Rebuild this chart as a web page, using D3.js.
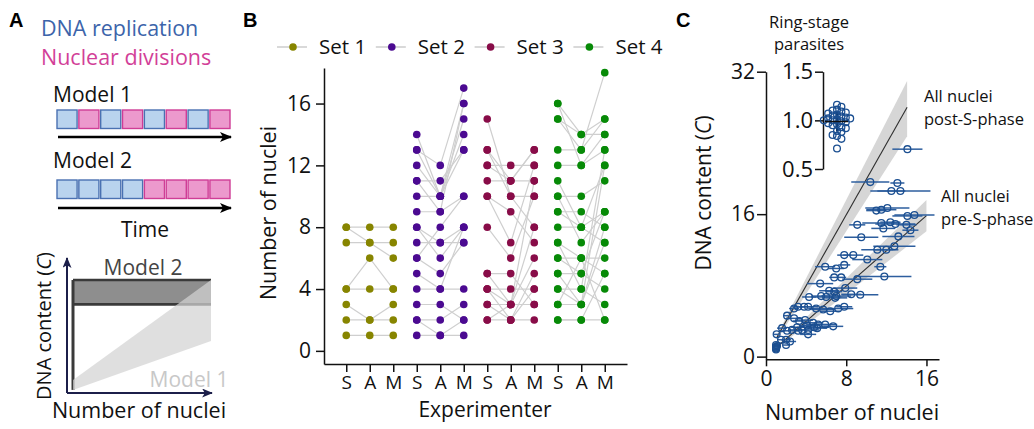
<!DOCTYPE html>
<html>
<head>
<meta charset="utf-8">
<script src="https://cdn.jsdelivr.net/npm/d3@7"></script>
<style>
  body { margin: 0; background: #fff; }
  text { font-family: "Open Sans", sans-serif; }
</style>
</head>
<body>
<svg id="fig" width="1034" height="429"></svg>
<script>
// ---------- panel A: the two models
const model1Steps = ["rep", "div", "rep", "div", "rep", "div", "rep", "div"];
const model2Steps = ["rep", "rep", "rep", "rep", "div", "div", "div", "div"];
const model2Band = [0.78, 1.0];              // DNA content stays between these
const model1Wedge = [[0, 0.01, 0.1], [1, 0.45, 1.0]]; // [nuclei, low, high]

// ---------- panel B: nuclei counted by three experimenters (S, A, M)
const experimenters = ["S", "A", "M"];
const setNames = ["Set 1", "Set 2", "Set 3", "Set 4"];
const setColors = ["#878500", "#4b0a91", "#880c48", "#078a07"];
const set1Counts = [
  [8, 8, 8], [8, 7, 6], [7, 7, 7], [4, 6, 4], [4, 4, 4], [3, 2, 3], [2, 2, 2], [1, 1, 1]
];
const set2Counts = [
  [14, 10, 15], [13, 12, 17], [13, 10, 16], [12, 10, 14], [11, 11, 13], [11, 9, 16],
  [10, 10, 13], [9, 9, 10], [8, 7, 8], [8, 6, 8], [7, 7, 7], [6, 8, 10], [6, 5, 7],
  [5, 4, 8], [4, 4, 4], [3, 3, 2], [2, 2, 3], [2, 1, 1], [1, 1, 2]
];
const set3Counts = [
  [15, 10, 8], [13, 11, 13], [13, 10, 10], [12, 12, 12], [12, 11, 11], [11, 11, 13],
  [10, 7, 12], [10, 9, 7], [8, 6, 10], [5, 5, 3], [5, 3, 8], [4, 4, 4], [4, 3, 6],
  [4, 2, 5], [3, 3, 3], [3, 2, 4], [2, 2, 2], [2, 3, 11]
];
const set4Counts = [
  [16, 14, 15], [16, 12, 14], [15, 14, 14], [15, 13, 18], [13, 13, 15], [12, 12, 13],
  [11, 8, 12], [10, 10, 11], [10, 7, 9], [9, 9, 8], [9, 8, 7], [8, 8, 9], [7, 6, 6],
  [7, 4, 13], [6, 6, 5], [6, 5, 9], [5, 5, 4], [5, 3, 12], [4, 4, 3], [4, 3, 8],
  [3, 3, 7], [3, 6, 2], [2, 2, 2], [2, 2, 5]
];
const setCounts = [set1Counts, set2Counts, set3Counts, set4Counts];

// ---------- panel C: DNA content vs nuclei, [mean nuclei, DNA content (C), sd nuclei]
const cells = [
  [10.4, 19.6, 1.9], [13.1, 19.5, 0.7], [12.5, 18.6, 1.4], [13.4, 18.6, 3.0], [14.1, 23.3, 1.5],
  [12.1, 16.7, 2.2], [11.5, 16.5, 1.5], [11.0, 16.4, 1.0], [14.1, 15.8, 1.5], [14.8, 15.9, 2.0],
  [9.1, 14.8, 0.8], [11.5, 15.0, 1.9], [12.4, 15.1, 1.0], [11.7, 14.4, 1.2], [14.0, 14.8, 1.0],
  [12.9, 14.9, 2.0], [9.5, 13.4, 1.7], [13.2, 13.5, 1.6], [14.4, 14.2, 0.8],
  [12.8, 12.4, 2.1], [11.1, 12.0, 1.6], [12.0, 12.0, 1.2],
  [7.8, 11.4, 0.7], [8.7, 11.4, 1.0], [10.1, 10.9, 1.5],
  [7.8, 10.3, 0.6], [5.9, 10.1, 1.0], [7.0, 9.9, 0.8], [11.4, 10.1, 0.6],
  [11.8, 9.0, 2.7], [6.8, 8.9, 0.5], [7.5, 8.9, 0.5], [9.1, 8.7, 1.5],
  [5.4, 8.2, 1.3], [6.3, 7.4, 1.0], [6.8, 7.3, 0.8], [7.9, 7.7, 1.2], [8.5, 7.0, 1.0],
  [9.4, 6.95, 1.8], [7.0, 6.8, 1.5],
  [4.3, 6.7, 0.7], [5.5, 6.8, 1.0], [6.0, 6.7, 1.5], [6.9, 6.6, 1.2],
  [4.2, 5.6, 1.0], [5.0, 5.4, 0.8], [5.7, 5.3, 1.2], [6.4, 5.1, 1.0], [7.2, 5.4, 1.5], [7.8, 5.6, 0.8],
  [3.2, 5.6, 0.6], [3.8, 5.6, 0.8], [2.8, 5.4, 0.5],
  [2.1, 4.6, 0.4], [2.8, 4.3, 0.8], [3.3, 4.0, 0.6], [3.9, 4.1, 0.8], [4.7, 3.8, 1.0],
  [5.2, 3.6, 1.2], [4.1, 3.5, 0.8], [4.8, 3.3, 1.5], [3.1, 3.3, 0.6], [3.6, 3.0, 0.5],
  [4.2, 3.0, 1.1], [5.1, 3.2, 1.0], [5.9, 3.6, 1.2], [6.7, 3.4, 1.0],
  [1.6, 3.2, 0.5], [2.1, 2.9, 0.6], [2.6, 3.0, 0.4], [3.2, 2.9, 0.5], [4.2, 2.5, 0.8],
  [1.06, 2.5, 0.3], [1.5, 1.9, 0.4], [2.0, 1.9, 0.5], [2.4, 1.7, 0.6], [2.0, 1.3, 0.3],
  [1.0, 1.3, 0.2], [1.0, 1.1, 0.2], [1.0, 0.9, 0.2], [1.0, 0.8, 0.2], [1.0, 1.0, 0.2], [1.1, 1.2, 0.3]
];
// linear fits through the origin, with their confidence band
const fitNames = ["post-S-phase", "pre-S-phase"];
const fitSlope = [1.99, 0.99];
const fitBandLow = [1.76, 0.88];
const fitBandHigh = [2.2, 1.1];
const fitFrom = [1.1, 1.3];
const fitTo = [14.07, 16.0];
// inset: DNA content of ring-stage parasites (C)
const ringDNA = [1.16, 1.14, 1.11, 1.10, 1.09, 1.08, 1.07, 1.06, 1.05, 1.04, 1.03, 1.02, 1.02,
  1.01, 1.0, 1.0, 0.99, 0.98, 0.97, 0.96, 0.95, 0.93, 0.92, 0.89, 0.88, 0.85, 0.84, 0.81, 0.71];

const font = '"Open Sans", sans-serif';
const blue = "#1b4f91";
const svg = d3.select("#fig");

function styleAxis(size) {
  return g => {
    g.attr("font-family", font).attr("font-size", size);
    g.select(".domain").attr("stroke", "#111").attr("stroke-width", 1.5);
    g.selectAll(".tick line").attr("stroke", "#111").attr("stroke-width", 1.5);
    g.selectAll(".tick text").attr("fill", "#111");
  };
}

// panel letters
svg.selectAll("text.letter").data([["A", 9], ["B", 243], ["C", 676]]).join("text")
  .attr("class", "letter")
  .attr("x", d => d[1]).attr("y", 27)
  .style("font-family", "'Liberation Sans', Arial, sans-serif")
  .attr("font-weight", "bold").attr("font-size", 20)
  .text(d => d[0]);

// ================= panel A =================
const A = svg.append("g");
A.append("text").attr("x", 41).attr("y", 36).attr("font-size", 21.5).attr("fill", "#3c64aa").text("DNA replication");
A.append("text").attr("x", 41).attr("y", 65).attr("font-size", 21.5).attr("fill", "#d23f98").text("Nuclear divisions");

const stepFill = { rep: "#b9d3ee", div: "#ec99cd" };
const stepStroke = { rep: "#4a71b2", div: "#cf3d96" };
const xStep = d3.scaleBand().domain(d3.range(8)).range([57, 230]).paddingInner(0.08);

svg.append("defs").append("marker")
  .attr("id", "head").attr("viewBox", "0 0 12 10").attr("refX", 11).attr("refY", 5)
  .attr("markerWidth", 12).attr("markerHeight", 10).attr("markerUnits", "userSpaceOnUse")
  .attr("orient", "auto")
  .append("path").attr("d", "M0,0 L12,5 L0,10 L3,5 Z").attr("fill", "#000");
svg.select("defs").append("marker")
  .attr("id", "headNavy").attr("viewBox", "0 0 12 10").attr("refX", 11).attr("refY", 5)
  .attr("markerWidth", 11).attr("markerHeight", 9).attr("markerUnits", "userSpaceOnUse")
  .attr("orient", "auto")
  .append("path").attr("d", "M0,0 L12,5 L0,10 L3,5 Z").attr("fill", "#1c1f4a");

const modelRows = [
  { label: "Model 1", steps: model1Steps, top: 110, labelY: 102, arrowY: 137 },
  { label: "Model 2", steps: model2Steps, top: 180, labelY: 168, arrowY: 208 }
];
modelRows.forEach(row => {
  A.append("text").attr("x", 53).attr("y", row.labelY).attr("font-size", 21).attr("fill", "#111").text(row.label);
  A.selectAll(null).data(row.steps).join("rect")
    .attr("x", (d, i) => xStep(i)).attr("y", row.top)
    .attr("width", xStep.bandwidth()).attr("height", 18.5)
    .attr("fill", d => stepFill[d]).attr("stroke", d => stepStroke[d]).attr("stroke-width", 1.4);
  A.append("line").attr("x1", 58).attr("x2", 231).attr("y1", row.arrowY).attr("y2", row.arrowY)
    .attr("stroke", "#000").attr("stroke-width", 2.6).attr("marker-end", "url(#head)");
});
A.append("text").attr("x", 145).attr("y", 237).attr("text-anchor", "middle").attr("font-size", 21).attr("fill", "#111").text("Time");

// schematic DNA content vs nuclei
const xs = d3.scaleLinear().domain([0, 1]).range([73, 211]);
const ys = d3.scaleLinear().domain([0, 1]).range([391, 280]);
A.append("rect")
  .attr("x", xs(0)).attr("width", xs(1) - xs(0))
  .attr("y", ys(model2Band[1])).attr("height", ys(model2Band[0]) - ys(model2Band[1]))
  .attr("fill", "#8e8e8e");
[model2Band[1], model2Band[0]].forEach(v => {
  A.append("line").attr("x1", xs(0)).attr("x2", xs(1)).attr("y1", ys(v)).attr("y2", ys(v))
    .attr("stroke", "#3a3a3a").attr("stroke-width", 2.6);
});
A.append("line").attr("x1", xs(0)).attr("x2", xs(0)).attr("y1", ys(1)).attr("y2", ys(0.01))
  .attr("stroke", "#3a3a3a").attr("stroke-width", 3);
A.append("path").datum(model1Wedge)
  .attr("d", d3.area().x(d => xs(d[0])).y0(d => ys(d[1])).y1(d => ys(d[2])))
  .attr("fill", "#d2d2d2").attr("fill-opacity", 0.72);
A.append("line").attr("x1", 67).attr("x2", 67).attr("y1", 393).attr("y2", 258)
  .attr("stroke", "#1c1f4a").attr("stroke-width", 2).attr("marker-end", "url(#headNavy)");
A.append("line").attr("x1", 67).attr("x2", 212).attr("y1", 393).attr("y2", 393)
  .attr("stroke", "#1c1f4a").attr("stroke-width", 2).attr("marker-end", "url(#headNavy)");
A.append("text").attr("x", 143).attr("y", 275).attr("text-anchor", "middle").attr("font-size", 21).attr("fill", "#444").text("Model 2");
A.append("text").attr("x", 189).attr("y", 387).attr("text-anchor", "middle").attr("font-size", 21).attr("fill", "#c8c8c8").text("Model 1");
const aLab = A.append("text").attr("transform", "translate(51,326) rotate(-90)")
  .attr("text-anchor", "middle").attr("font-size", 20).attr("fill", "#111");
aLab.append("tspan").text("DNA content (");
aLab.append("tspan").attr("font-style", "italic").text("C");
aLab.append("tspan").text(")");
A.append("text").attr("x", 139).attr("y", 418).attr("text-anchor", "middle").attr("font-size", 21.5).attr("fill", "#111").text("Number of nuclei");

// ================= panel B =================
const B = svg.append("g");
const xB = d3.scalePoint().domain(d3.range(12)).range([324, 627]).padding(0.947);
const yB = d3.scaleLinear().domain([-0.85, 18.3]).range([364, 68]);

B.append("g").attr("transform", "translate(324,0)")
  .call(d3.axisLeft(yB).tickValues([0, 4, 8, 12, 16]).tickSize(8).tickSizeOuter(0).tickPadding(5))
  .call(styleAxis(21));
B.append("g").attr("transform", "translate(0,364)")
  .call(d3.axisBottom(xB).tickSize(8).tickSizeOuter(0).tickPadding(4).tickFormat(i => experimenters[i % 3]))
  .call(styleAxis(19));

const pairLine = si => d3.line().x((v, j) => xB(si * 3 + j)).y(v => yB(v));
setCounts.forEach((counts, si) => {
  B.append("g").selectAll("path").data(counts).join("path")
    .attr("d", pairLine(si))
    .attr("fill", "none").attr("stroke", "#cfcfcf").attr("stroke-width", 1.2);
});
setCounts.forEach((counts, si) => {
  const pts = counts.flatMap(c => c.map((v, j) => ({ k: si * 3 + j, v })));
  B.append("g").selectAll("circle").data(pts).join("circle")
    .attr("cx", d => xB(d.k)).attr("cy", d => yB(d.v)).attr("r", 3.8)
    .attr("fill", setColors[si]);
});

const legend = B.append("g").selectAll("g").data(setNames).join("g")
  .attr("transform", (d, i) => `translate(${293 + i * 98.8},47)`);
legend.append("line").attr("x1", -16).attr("x2", 14).attr("stroke", "#c4c4c4").attr("stroke-width", 1.3);
legend.append("circle").attr("r", 3.8).attr("fill", (d, i) => setColors[i]);
legend.append("text").attr("x", 26).attr("y", 7).attr("font-size", 20.5).attr("fill", "#111").text(d => d);

B.append("text").attr("transform", "translate(276,213) rotate(-90)").attr("text-anchor", "middle")
  .attr("font-size", 21.5).attr("fill", "#111").text("Number of nuclei");
B.append("text").attr("x", 485).attr("y", 417).attr("text-anchor", "middle")
  .attr("font-size", 21).attr("fill", "#111").text("Experimenter");

// ================= panel C =================
const C = svg.append("g");
const xC = d3.scaleLinear().domain([0, 17.25]).range([766, 939]);
const yC = d3.scaleLinear().domain([-0.3, 32]).range([359.3, 71.7]);

// fits with confidence bands
fitNames.forEach((name, i) => {
  const ns = [fitFrom[i], fitTo[i]];
  C.append("path").datum(ns)
    .attr("d", d3.area().x(n => xC(n)).y0(n => yC(fitBandLow[i] * n)).y1(n => yC(fitBandHigh[i] * n)))
    .attr("fill", "#d6d6d6");
});
fitNames.forEach((name, i) => {
  C.append("line")
    .attr("x1", xC(fitFrom[i])).attr("y1", yC(fitSlope[i] * fitFrom[i]))
    .attr("x2", xC(fitTo[i])).attr("y2", yC(fitSlope[i] * fitTo[i]))
    .attr("stroke", "#2e2e2e").attr("stroke-width", 1.1);
});

C.append("g").selectAll("line").data(cells).join("line")
  .attr("x1", d => xC(d[0] - d[2])).attr("x2", d => xC(d[0] + d[2]))
  .attr("y1", d => yC(d[1])).attr("y2", d => yC(d[1]))
  .attr("stroke", "#2d5e9e").attr("stroke-width", 1.5);
C.append("g").selectAll("circle").data(cells).join("circle")
  .attr("cx", d => xC(d[0])).attr("cy", d => yC(d[1])).attr("r", 3.4)
  .attr("fill", "none").attr("stroke", blue).attr("stroke-width", 1.3);

C.append("g").attr("transform", "translate(766,0)")
  .call(d3.axisLeft(yC).tickValues([0, 16, 32]).tickSize(9).tickSizeOuter(0).tickPadding(2))
  .call(styleAxis(21));
C.append("g").attr("transform", "translate(0,359.3)")
  .call(d3.axisBottom(xC).tickValues([0, 8, 16]).tickSize(7).tickSizeOuter(0).tickPadding(5))
  .call(styleAxis(21));

const cLab = C.append("text").attr("transform", "translate(711,193) rotate(-90)")
  .attr("text-anchor", "middle").attr("font-size", 21).attr("fill", "#111");
cLab.append("tspan").text("DNA content (");
cLab.append("tspan").attr("font-style", "italic").text("C");
cLab.append("tspan").text(")");
C.append("text").attr("x", 852).attr("y", 420).attr("text-anchor", "middle")
  .attr("font-size", 21.5).attr("fill", "#111").text("Number of nuclei");

// fit labels
const fitLabelPos = [[924, 102], [941, 202]];
fitNames.forEach((name, i) => {
  const t = C.append("text").attr("font-size", 16.5).attr("fill", "#111");
  t.append("tspan").attr("x", fitLabelPos[i][0]).attr("y", fitLabelPos[i][1]).text("All nuclei");
  t.append("tspan").attr("x", fitLabelPos[i][0]).attr("dy", 23).text(name);
});

// inset: ring-stage parasites
const yIn = d3.scaleLinear().domain([0.5, 1.5]).range([169, 71.7]);
C.append("g").attr("transform", "translate(823,0)")
  .call(d3.axisLeft(yIn).tickValues([0.5, 1.0, 1.5]).tickFormat(d3.format(".1f"))
    .tickSize(8).tickSizeOuter(0).tickPadding(2))
  .call(styleAxis(22));
// simple dodge so the dots sit side by side
const inR = 3.4, inCenter = 837, placed = [];
ringDNA.forEach(v => {
  const y = yIn(v);
  for (let k = 0; k < 20; k++) {
    const off = (k % 2 ? 1 : -1) * Math.ceil(k / 2) * 4.4;
    const x = inCenter + off;
    if (placed.every(p => Math.hypot(p.x - x, p.y - y) > inR * 1.25)) { placed.push({ x, y, v }); break; }
  }
});
C.append("line").attr("x1", inCenter).attr("x2", inCenter)
  .attr("y1", yIn(d3.mean(ringDNA) - d3.deviation(ringDNA))).attr("y2", yIn(d3.mean(ringDNA) + d3.deviation(ringDNA)))
  .attr("stroke", "#0e3a70").attr("stroke-width", 2);
C.append("g").selectAll("circle").data(placed).join("circle")
  .attr("cx", d => d.x).attr("cy", d => d.y).attr("r", inR)
  .attr("fill", "none").attr("stroke", blue).attr("stroke-width", 1.3);
C.append("line").attr("x1", 825).attr("x2", 848)
  .attr("y1", yIn(d3.mean(ringDNA))).attr("y2", yIn(d3.mean(ringDNA)))
  .attr("stroke", "#111").attr("stroke-width", 1.5);
const ringT = C.append("text").attr("text-anchor", "middle").attr("font-size", 16.5).attr("fill", "#111");
ringT.append("tspan").attr("x", 809).attr("y", 28).text("Ring-stage");
ringT.append("tspan").attr("x", 809).attr("y", 50).text("parasites");
</script>
</body>
</html>
